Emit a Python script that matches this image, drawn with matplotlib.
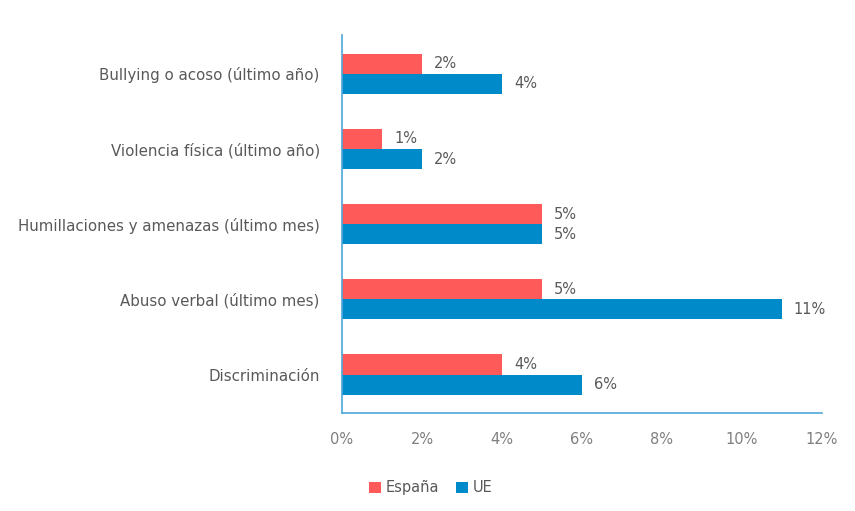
import matplotlib
matplotlib.use('Agg')
import matplotlib.pyplot as plt
import numpy as np

# Data (top to bottom as shown)
categories = [
    "Bullying o acoso (último año)",
    "Violencia física (último año)",
    "Humillaciones y amenazas (último mes)",
    "Abuso verbal (último mes)",
    "Discriminación",
]
espana = [2, 1, 5, 5, 4]
ue = [4, 2, 5, 11, 6]
x_ticks = [0, 2, 4, 6, 8, 10, 12]

RED = "#FF5A5A"
BLUE = "#008AC9"
GRAY = "#595959"
SPINE = "#4DA8DA"

plt.rcParams['font.family'] = ['DejaVu Sans']

fig = plt.figure(figsize=(8.55, 5.11), dpi=100)
ax = fig.add_axes([0.4, 0.192, 0.561, 0.74])

n = len(categories)
ypos = np.arange(n)[::-1]
h = 0.267

ax.barh(ypos + h / 2, espana, height=h, color=RED, label="España")
ax.barh(ypos - h / 2, ue, height=h, color=BLUE, label="UE")

for y, v in zip(ypos, espana):
    ax.text(v + 0.3, y + h / 2, f"{v}%", va="center", ha="left", color=GRAY, fontsize=10.5)
for y, v in zip(ypos, ue):
    ax.text(v + 0.3, y - h / 2, f"{v}%", va="center", ha="left", color=GRAY, fontsize=10.5)

ax.set_xlim(0, 12)
ax.set_ylim(-0.51, 4.52)
ax.set_xticks(x_ticks)
ax.set_xticklabels([f"{t}%" for t in x_ticks])
ax.set_yticks(ypos)
ax.set_yticklabels(categories)
ax.tick_params(axis="x", length=0, pad=14, colors="#7F7F7F", labelsize=10.5)
ax.tick_params(axis="y", length=0, pad=16, colors=GRAY, labelsize=10.8)

for s in ["top", "right"]:
    ax.spines[s].set_visible(False)
for s in ["left", "bottom"]:
    ax.spines[s].set_color(SPINE)
    ax.spines[s].set_linewidth(1.2)

ax.legend(loc="center", bbox_to_anchor=(0.185, -0.198), ncol=2, frameon=False,
          handlelength=0.8, handleheight=0.8, handletextpad=0.3, columnspacing=1.2,
          labelcolor=GRAY, fontsize=10.5)

fig.savefig("out.png", dpi=100)
